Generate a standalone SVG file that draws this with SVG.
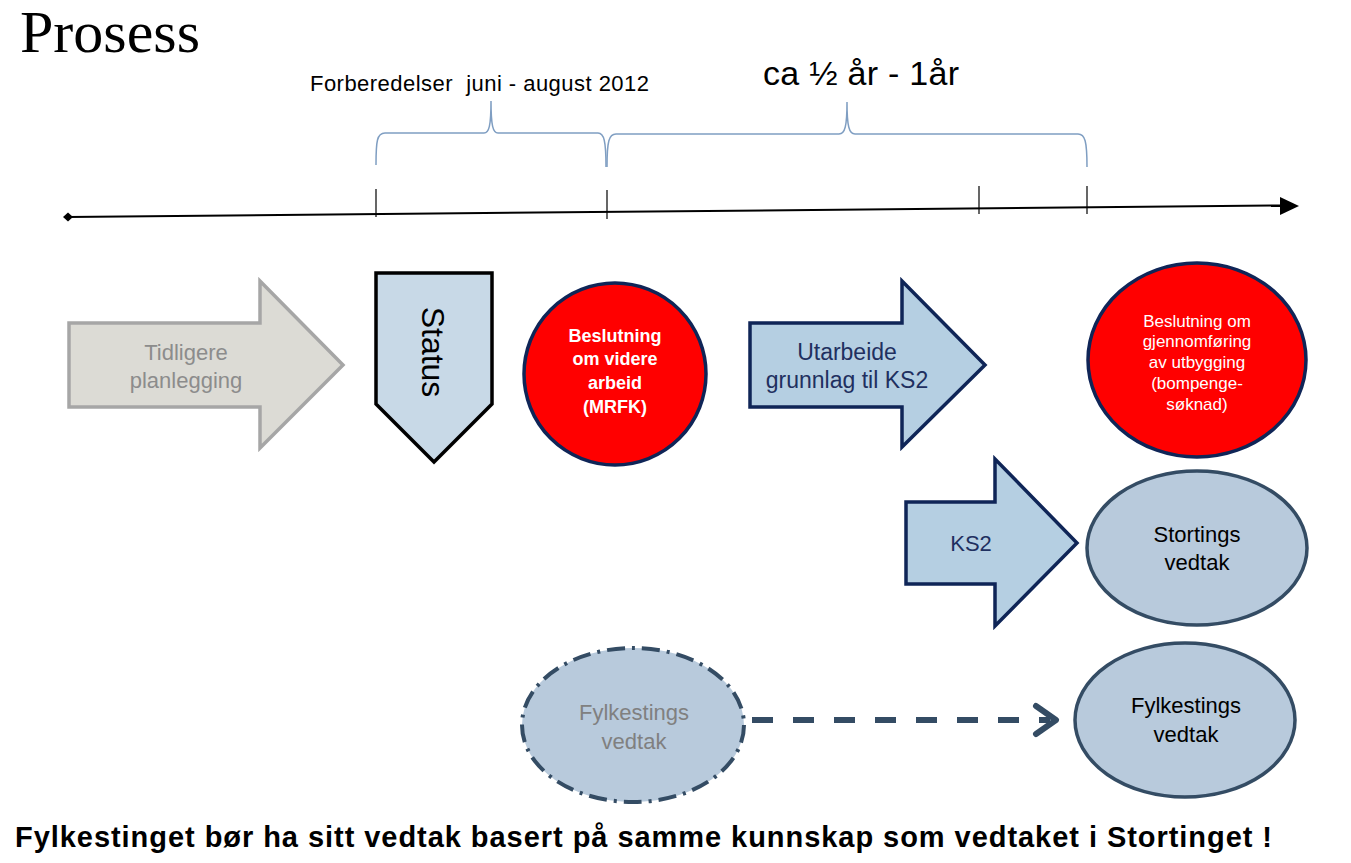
<svg xmlns="http://www.w3.org/2000/svg" width="1351" height="863" viewBox="0 0 1351 863">
<defs>
<style>
.sans{font-family:"Liberation Sans",Arial,sans-serif}
.brace{fill:none;stroke:#7f9ec2;stroke-width:1.5}
.tick{stroke:#000;stroke-width:1.2}
.navy{stroke:#0f2557;stroke-width:3.5}
.slate{stroke:#344c64;stroke-width:3.5}
</style>
</defs>
<rect width="1351" height="863" fill="#fff"/>
<text x="20" y="52" font-family="Liberation Serif,'Times New Roman',serif" font-size="60">Prosess</text>

<g id="timeline">
<line x1="68" y1="217" x2="1283" y2="205.5" stroke="#000" stroke-width="2"/>
<polygon points="63,217 68,212.5 73,217 68,221.5" fill="#000"/>
<polygon points="1280,197 1299,206 1280,215" fill="#000"/>
<line class="tick" x1="376" y1="189" x2="376" y2="217"/>
<line class="tick" x1="607" y1="190" x2="607" y2="219"/>
<line class="tick" x1="979" y1="186" x2="979" y2="214"/>
<line class="tick" x1="1087" y1="186" x2="1087" y2="214"/>
<path class="brace" d="M376,165 C376,141 377,133 385,133 L484,133 C489,133 491,126 491,101 C491,126 493,133 498,133 L598,133 C604,133 606,141 606,167"/>
<path class="brace" d="M607,167 C607,141 609,134 616,134 L839,134 C845,134 847,126 847,102 C847,126 849,134 855,134 L1078,134 C1085,134 1087,141 1087,167"/>
<text class="sans" x="310" y="91" font-size="22" xml:space="preserve" textLength="339">Forberedelser  juni - august 2012</text>
<text class="sans" x="763" y="85" font-size="34" textLength="196">ca ½ år - 1år</text>
</g>

<g id="tidligere">
<polygon points="69,323 260,323 260,281 343,365 260,448 260,407 69,407" fill="#dcdbd5" stroke="#a6a6a6" stroke-width="3.5"/>
<text class="sans" font-size="22" fill="#8c8c8c" text-anchor="middle"><tspan x="186" y="360">Tidligere</tspan><tspan x="186" y="388">planlegging</tspan></text>
</g>

<g id="status">
<polygon points="376,273 492,273 492,404 434,462 376,404" fill="#c8d9e7" stroke="#000" stroke-width="3.5"/>
<text class="sans" font-size="32" text-anchor="middle" transform="translate(433,352) rotate(90)" y="11">Status</text>
</g>

<g id="beslutning1">
<circle cx="615" cy="374" r="91" fill="#ff0000" class="navy"/>
<text class="sans" font-size="18" font-weight="bold" fill="#fff" text-anchor="middle"><tspan x="615" y="342">Beslutning</tspan><tspan x="615" y="365">om videre</tspan><tspan x="615" y="389">arbeid</tspan><tspan x="615" y="413">(MRFK)</tspan></text>
</g>

<g id="utarbeide">
<polygon points="750,323 902,323 902,281 985,365 902,447 902,407 750,407" fill="#b5cfe2" class="navy"/>
<text class="sans" font-size="23" fill="#1f3060" text-anchor="middle"><tspan x="847" y="360">Utarbeide</tspan><tspan x="847" y="388">grunnlag til KS2</tspan></text>
</g>

<g id="beslutning2">
<ellipse cx="1197" cy="360" rx="109" ry="97" fill="#ff0000" class="navy"/>
<text class="sans" font-size="17" fill="#fff" text-anchor="middle"><tspan x="1197" y="327">Beslutning om</tspan><tspan x="1197" y="347">gjennomføring</tspan><tspan x="1197" y="368">av utbygging</tspan><tspan x="1197" y="389">(bompenge-</tspan><tspan x="1197" y="410">søknad)</tspan></text>
</g>

<g id="ks2">
<polygon points="906,502 995,502 995,459 1077,543 995,626 995,584 906,584" fill="#b5cfe2" class="navy"/>
<text class="sans" font-size="22" fill="#1f3060" text-anchor="middle" x="971" y="551">KS2</text>
</g>

<g id="stortings">
<ellipse cx="1197" cy="548" rx="110" ry="77" fill="#b8cadc" class="slate"/>
<text class="sans" font-size="22" fill="#000" text-anchor="middle"><tspan x="1197" y="542">Stortings</tspan><tspan x="1197" y="570">vedtak</tspan></text>
</g>

<g id="fylke1">
<ellipse cx="633" cy="725" rx="111" ry="77" fill="#b8cadc" stroke="#344c64" stroke-width="4" stroke-dasharray="18,7,3,7"/>
<text class="sans" font-size="22" fill="#808080" text-anchor="middle"><tspan x="634" y="720">Fylkestings</tspan><tspan x="634" y="749">vedtak</tspan></text>
</g>

<g id="fylke2">
<ellipse cx="1185" cy="720" rx="110" ry="77" fill="#b8cadc" class="slate"/>
<text class="sans" font-size="22" fill="#000" text-anchor="middle"><tspan x="1186" y="713">Fylkestings</tspan><tspan x="1186" y="742">vedtak</tspan></text>
</g>

<g id="connectors">
<line x1="752" y1="720" x2="1050" y2="720" stroke="#344c64" stroke-width="6" stroke-dasharray="21,20"/>
<polyline points="1036,706 1056,720 1036,734" fill="none" stroke="#344c64" stroke-width="6" stroke-linecap="round" stroke-linejoin="round"/>
</g>

<text class="sans" x="15" y="847" font-size="29" font-weight="bold" textLength="1257">Fylkestinget bør ha sitt vedtak basert på samme kunnskap som vedtaket i Stortinget !</text>
</svg>
